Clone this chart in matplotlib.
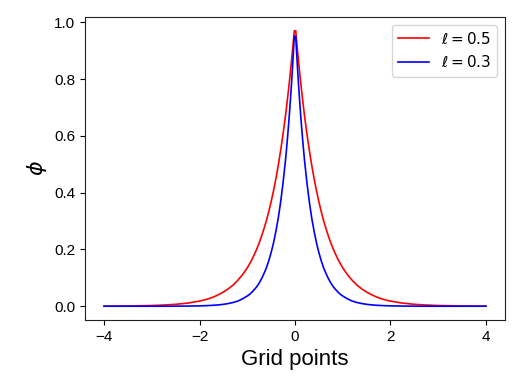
import matplotlib
matplotlib.use("Agg")
import matplotlib.pyplot as plt

plt.rcParams['font.family'] = ['Liberation Sans', 'DejaVu Sans']

# right half of the grid (curves are symmetric about 0)
x_right = [0.015, 0.025, 0.05, 0.075, 0.1, 0.125, 0.15, 0.175, 0.2, 0.25, 0.3, 0.35, 0.4, 0.45,
           0.5, 0.55, 0.6, 0.65, 0.7, 0.75, 0.8, 0.85, 0.9, 0.95, 1.0, 1.1, 1.2, 1.3, 1.4, 1.5,
           1.6, 1.7, 1.8, 1.9, 2.0, 2.25, 2.5, 2.75, 3.0, 3.5, 4.0]

phi_l05_right = [0.970, 0.951, 0.905, 0.861, 0.819, 0.779, 0.741, 0.705, 0.670, 0.607, 0.549,
                 0.497, 0.449, 0.407, 0.368, 0.333, 0.301, 0.273, 0.247, 0.223, 0.202, 0.183,
                 0.165, 0.150, 0.135, 0.111, 0.091, 0.074, 0.061, 0.050, 0.041, 0.033, 0.027,
                 0.022, 0.018, 0.011, 0.0067, 0.0041, 0.0025, 0.0009, 0.0003]

phi_l03_right = [0.951, 0.920, 0.846, 0.779, 0.717, 0.659, 0.607, 0.558, 0.513, 0.435, 0.368,
                 0.311, 0.264, 0.223, 0.189, 0.160, 0.135, 0.115, 0.097, 0.082, 0.069, 0.059,
                 0.050, 0.042, 0.036, 0.026, 0.018, 0.013, 0.0094, 0.0067, 0.0048, 0.0035,
                 0.0025, 0.0018, 0.0013, 0.0006, 0.0002, 0.0001, 0.0, 0.0, 0.0]

x = [-v for v in reversed(x_right)] + x_right
phi_l05 = list(reversed(phi_l05_right)) + phi_l05_right
phi_l03 = list(reversed(phi_l03_right)) + phi_l03_right

labels = [r'$\ell=0.5$', r'$\ell=0.3$']

fig = plt.figure(figsize=(5.23, 3.92), dpi=100)
ax = fig.add_axes([85/523, 1 - 320/392, 420/523, 303/392])
ax.plot(x, phi_l05, color='red', lw=1.2, label=labels[0])
ax.plot(x, phi_l03, color='blue', lw=1.2, label=labels[1])
ax.set_xticks([-4, -2, 0, 2, 4])
ax.set_yticks([0.0, 0.2, 0.4, 0.6, 0.8, 1.0])
ax.tick_params(labelsize=11)
ax.set_xlabel('Grid points', fontsize=16)
ax.set_ylabel(r'$\phi$', fontsize=16)
for s in ax.spines.values():
    s.set_color('#222222')
ax.legend(loc='upper right', fontsize=11)
fig.savefig('out.png', dpi=100)
